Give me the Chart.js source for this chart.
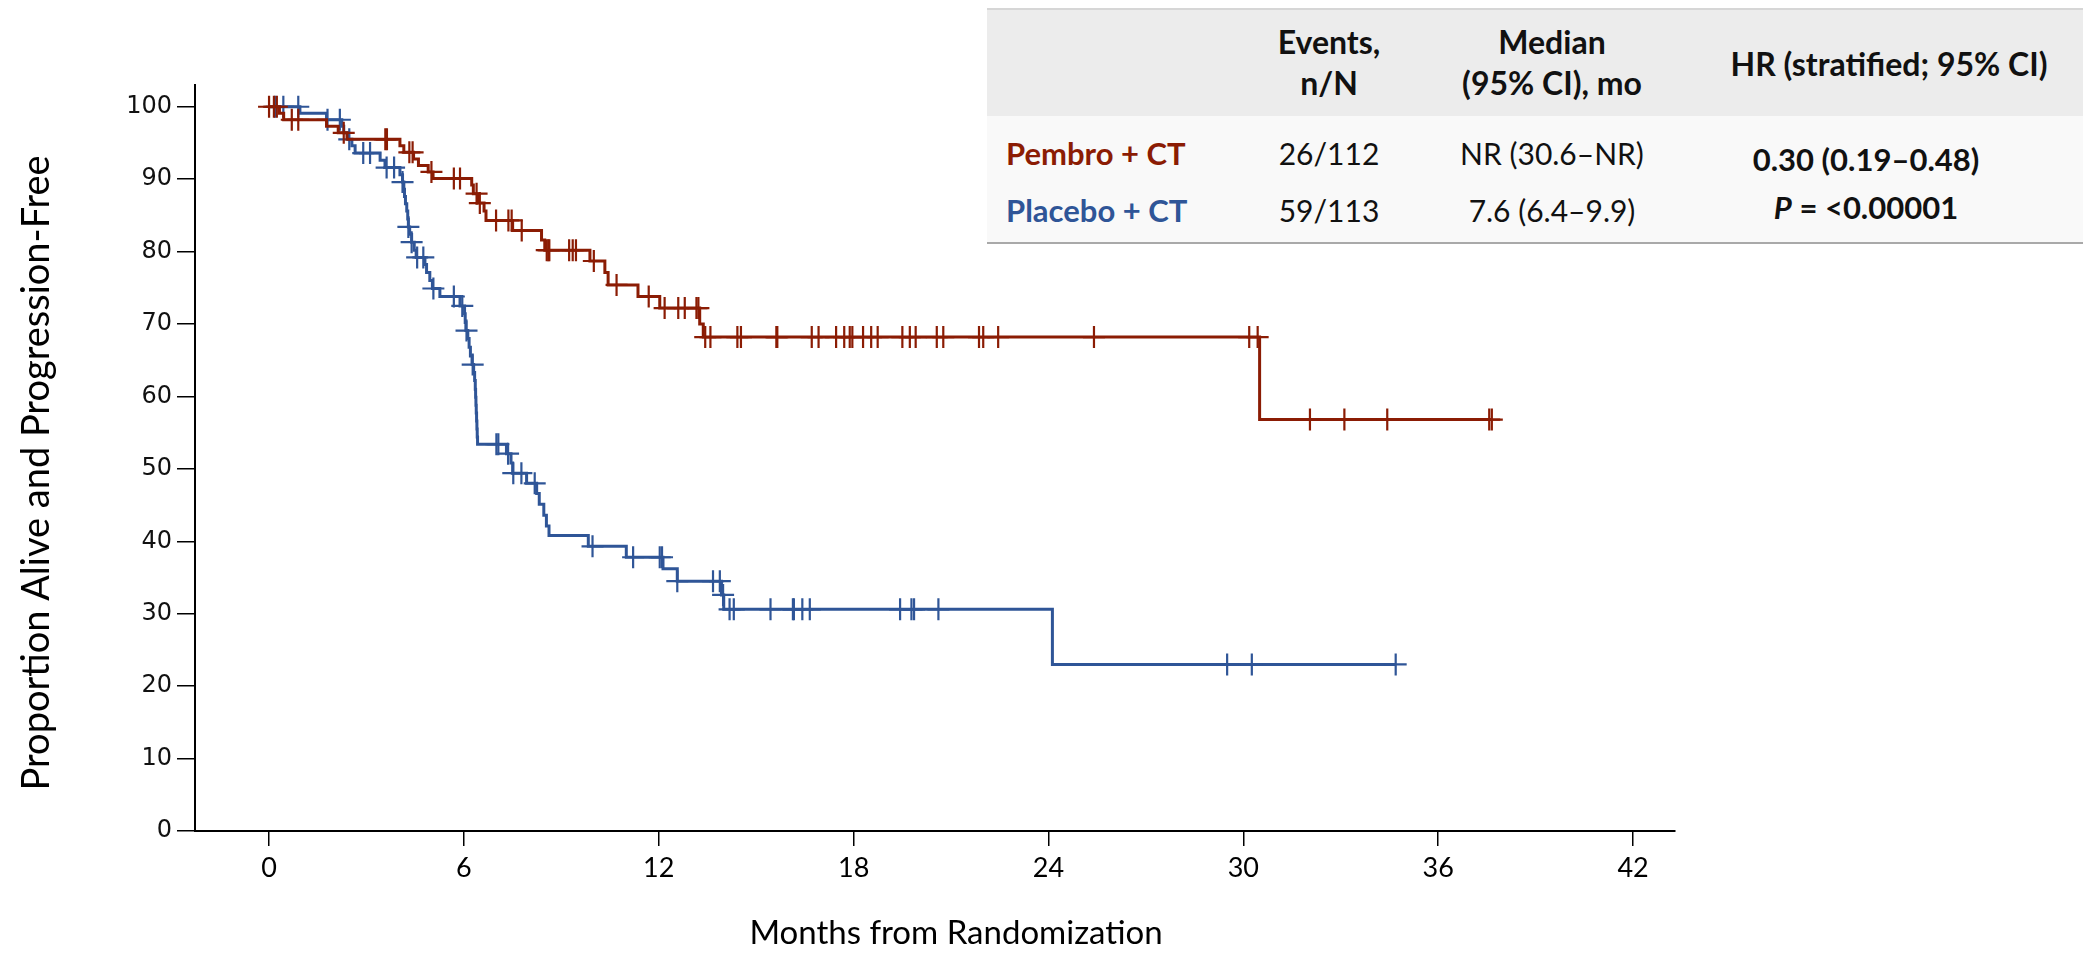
<!DOCTYPE html>
<html>
<head>
<meta charset="utf-8">
<script src="https://cdn.jsdelivr.net/npm/chart.js@4.4.1/dist/chart.umd.min.js"></script>
<style>
  html, body { margin: 0; padding: 0; background: #fff; }
  #wrap { position: relative; width: 2098px; height: 954px; overflow: hidden; }
  #chart { position: absolute; left: 0; top: 0; }
  .cell { position: absolute; transform: translate(-50%, -50%); white-space: nowrap;
          font-family: Lato, "Open Sans", sans-serif; color: #111; }
  .left { transform: translate(0, -50%); }
  .head { font-weight: bold; font-size: 32px; line-height: 41px; text-align: center; }
  .body { font-size: 30px; }
  .bold { font-weight: bold; font-size: 31px; }
  #hdr { position: absolute; left: 987px; top: 8px; width: 1096px; height: 106px;
         background: #ececec; border-top: 2px solid #d6d6d6; border-bottom: 2px solid #a9a9a9; }
  #bdy { position: absolute; left: 987px; top: 116px; width: 1096px; height: 126px;
         background: #f9f9f9; border-bottom: 2px solid #a9a9a9; }
</style>
</head>
<body>
<div id="wrap">
  <canvas id="chart" width="2098" height="954"></canvas>
  <div id="hdr"></div>
  <div id="bdy"></div>
</div>
<script>
// Pembro + CT: time of each drop (months) and survival after it (%)
const pembroTime = [0, 0.32, 0.45, 1.77, 2.13, 2.4, 4.03, 4.15, 4.45, 4.6, 4.9, 5.05, 6.24, 6.29, 6.44,
  6.62, 6.68, 7.5, 8.39, 8.49, 9.88, 10.34, 10.44, 11.36, 12.03, 13.26, 13.37, 30.5];
const pembroSurv = [100, 99.1, 98.2, 97.3, 96.4, 95.5, 94.6, 93.7, 92.8, 91.9, 91.0, 90.1, 89.2, 88.0, 86.7,
  85.6, 84.3, 82.9, 81.6, 80.2, 78.7, 77.1, 75.4, 73.8, 72.2, 70.0, 68.2, 56.8];
const pembroCensor = [0, 0.15, 0.24, 0.7, 0.9, 2.3, 3.58, 3.63, 4.32, 4.42, 5.0, 5.69, 5.88, 6.39, 6.49,
  6.99, 7.37, 7.47, 7.78, 8.55, 8.6, 8.63, 9.24, 9.35, 9.45, 10.0, 10.7, 11.69, 12.18, 12.6, 12.8, 13.16,
  13.22, 13.43, 13.59, 14.42, 14.53, 15.62, 15.65, 16.71, 16.92, 17.46, 17.71, 17.88, 17.96, 18.29, 18.54,
  18.74, 19.5, 19.73, 19.91, 20.56, 20.76, 21.86, 21.99, 22.45, 25.4, 30.18, 30.44, 32.05, 33.11, 34.43,
  37.57, 37.65];

// Placebo + CT
const placeboTime = [0, 0.95, 1.77, 2.24, 2.3, 2.45, 2.55, 2.65, 3.42, 3.57, 4.03, 4.11, 4.15, 4.17, 4.2,
  4.24, 4.27, 4.29, 4.33, 4.39, 4.47, 4.53, 4.8, 4.85, 4.95, 5.03, 5.26, 5.88, 6.02, 6.04, 6.06, 6.12, 6.16,
  6.2, 6.25, 6.3, 6.33, 6.35, 6.36, 6.37, 6.38, 6.39, 6.4, 6.41, 6.42, 7.31, 7.45, 7.5, 7.93, 8.24, 8.32,
  8.46, 8.54, 8.62, 9.83, 11.0, 12.13, 12.57, 13.93, 14.0, 24.12];
const placeboSurv = [100, 99.1, 98.2, 97.3, 96.4, 95.5, 94.6, 93.6, 92.6, 91.6, 90.6, 89.6, 88.6, 87.6, 86.6,
  85.6, 84.5, 83.4, 82.4, 81.3, 80.2, 79.2, 78.2, 77.1, 76.0, 74.9, 73.8, 72.5, 71.4, 70.2, 69.1, 68.0, 66.8,
  65.6, 64.4, 63.3, 62.2, 61.0, 59.9, 58.8, 57.7, 56.6, 55.5, 54.4, 53.4, 52.1, 50.8, 49.4, 48.0, 46.6, 45.1,
  43.6, 42.1, 40.8, 39.3, 37.8, 36.2, 34.5, 32.6, 30.6, 23.0];
const placeboCensor = [0.19, 0.44, 0.9, 1.8, 2.18, 2.47, 2.9, 3.11, 3.62, 3.85, 4.11, 4.29, 4.39, 4.56, 4.75,
  5.06, 5.69, 5.95, 6.08, 6.27, 7.0, 7.06, 7.36, 7.52, 7.77, 8.18, 9.96, 11.21, 12.03, 12.1, 12.57, 13.67,
  13.88, 13.98, 14.18, 14.31, 15.44, 16.13, 16.16, 16.42, 16.65, 19.43, 19.78, 19.86, 20.61, 29.5, 30.26,
  34.69];

const xTicks = [0, 6, 12, 18, 24, 30, 36, 42];
const yTicks = [0, 10, 20, 30, 40, 50, 60, 70, 80, 90, 100];
const xTitle = "Months from Randomization";
const yTitle = "Proportion Alive and Progression-Free";

const tableHead = ["Events,<br>n/N", "Median<br>(95% CI), mo", "HR (stratified; 95% CI)"];
const armNames = ["Pembro + CT", "Placebo + CT"];
const armEvents = ["26/112", "59/113"];
const armMedian = ["NR (30.6–NR)", "7.6 (6.4–9.9)"];
const hrText = ["0.30 (0.19–0.48)", "<i>P</i> = &lt;0.00001"];

const RED = "#8b1c04";
const BLUE = "#2f5597";

// step line: drops plus a final point at the last censor
function curve(times, surv, censor) {
  const pts = times.map((t, i) => ({ x: t, y: surv[i] }));
  const last = Math.max(...censor);
  pts.push({ x: last, y: surv[surv.length - 1] });
  return pts;
}
// censor marks sit on the curve at that time
function marks(times, surv, censor) {
  return censor.map((c) => {
    let v = surv[0];
    times.forEach((t, i) => { if (t <= c) v = surv[i]; });
    return { x: c, y: v };
  });
}

const titlesPlugin = {
  id: "titles",
  afterDraw(chart) {
    const { ctx, scales: { x, y } } = chart;
    ctx.save();
    ctx.fillStyle = "#000";
    ctx.textAlign = "center";
    ctx.textBaseline = "middle";
    ctx.font = "33px Lato";
    ctx.fillText(xTitle, (x.getPixelForValue(0) + x.getPixelForValue(42)) / 2 + 5, 933);
    ctx.translate(37, y.getPixelForValue(50) + 4);
    ctx.rotate(-Math.PI / 2);
    ctx.font = "38px Lato";
    ctx.fillText(yTitle, 0, 0);
    ctx.restore();
  },
};

function draw() {
  const ctx = document.getElementById("chart").getContext("2d");
  new Chart(ctx, {
    type: "scatter",
    data: {
      datasets: [
        {
          data: marks(pembroTime, pembroSurv, pembroCensor),
          showLine: false, pointStyle: "cross", pointRadius: 11, pointBorderWidth: 2.2,
          borderColor: RED, backgroundColor: RED,
        },
        {
          data: curve(pembroTime, pembroSurv, pembroCensor),
          showLine: true, stepped: "before", pointRadius: 0, borderWidth: 3, borderColor: RED,
        },
        {
          data: marks(placeboTime, placeboSurv, placeboCensor),
          showLine: false, pointStyle: "cross", pointRadius: 11, pointBorderWidth: 2.2,
          borderColor: BLUE, backgroundColor: BLUE,
        },
        {
          data: curve(placeboTime, placeboSurv, placeboCensor),
          showLine: true, stepped: "before", pointRadius: 0, borderWidth: 3, borderColor: BLUE,
        },
      ],
    },
    options: {
      responsive: false,
      animation: false,
      devicePixelRatio: 1,
      layout: { padding: { left: 0, right: 423, top: 85, bottom: 0 } },
      plugins: { legend: { display: false }, tooltip: { enabled: false } },
      scales: {
        x: {
          type: "linear",
          min: -2.28,
          max: 43.29,
          afterBuildTicks: (s) => { s.ticks = xTicks.map((v) => ({ value: v })); },
          afterFit: (s) => { s.height = 123; },
          ticks: { color: "#000", padding: 6, maxRotation: 0, autoSkip: false,
                   font: { family: "Lato", size: 27 } },
          grid: { display: true, drawOnChartArea: false, drawTicks: true, tickLength: 15,
                  color: "#000", lineWidth: 1.5 },
          border: { display: true, color: "#000", width: 2 },
        },
        y: {
          type: "linear",
          min: 0,
          max: 103,
          afterBuildTicks: (s) => { s.ticks = yTicks.map((v) => ({ value: v })); },
          afterFit: (s) => { s.width = 195; },
          ticks: { color: "#111", padding: 5, font: { family: "DejaVu Sans", size: 24 } },
          grid: { display: true, drawOnChartArea: false, drawTicks: true, tickLength: 18,
                  color: "#000", lineWidth: 1.5 },
          border: { display: true, color: "#000", width: 2 },
        },
      },
    },
    plugins: [titlesPlugin],
  });
}

// summary table
const wrap = document.getElementById("wrap");
function cell(html, x, y, cls, color) {
  const d = document.createElement("div");
  d.className = "cell " + cls;
  d.style.left = x + "px";
  d.style.top = y + "px";
  if (color) d.style.color = color;
  d.innerHTML = html;
  wrap.appendChild(d);
}
cell(tableHead[0], 1329, 62, "head");
cell(tableHead[1], 1552, 62, "head");
cell(tableHead[2], 1889, 63, "head");
cell(armNames[0], 1006, 153, "left bold", RED);
cell(armNames[1], 1006, 210, "left bold", BLUE);
cell(armEvents[0], 1329, 153, "body");
cell(armEvents[1], 1329, 210, "body");
cell(armMedian[0], 1552, 153, "body");
cell(armMedian[1], 1552, 210, "body");
cell(hrText[0], 1866, 159, "bold");
cell(hrText[1], 1866, 207, "bold");

// make sure the canvas fonts are ready before drawing
Promise.all([
  document.fonts.load("33px Lato"),
  document.fonts.load("27px Lato"),
  document.fonts.load("24px 'DejaVu Sans'"),
]).then(draw, draw);
</script>
</body>
</html>
